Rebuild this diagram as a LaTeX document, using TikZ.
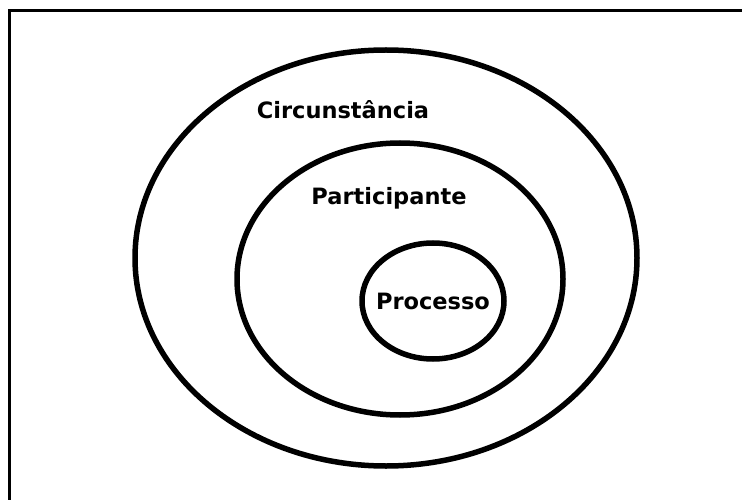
\documentclass[tikz,border=0pt]{standalone}
\usepackage{fontspec}
\setmainfont{DejaVu Sans}
\begin{document}
\begin{tikzpicture}[x=1pt,y=-1pt,
  ring/.style={draw=black,line width=5.5pt},
  lbl/.style={font=\fontsize{22.5}{25}\selectfont\bfseries,text=black,inner sep=0pt}]
\useasboundingbox (0,0) rectangle (742,500);
\begin{scope}
\clip (0,0) rectangle (742,500);
\draw[line width=3pt] (9,520) |- (760,11);
\end{scope}
\draw[ring] (386,258) ellipse [x radius=251, y radius=208];
\draw[ring] (400,279) ellipse [x radius=163, y radius=136];
\draw[ring] (433,301) ellipse [x radius=71, y radius=58];
\node[lbl] (circ) at (343,110) {Circunstância};
\node[lbl] (part) at (389,198) {Participante};
\node[lbl] (proc) at (433,301) {Processo};
\end{tikzpicture}
\end{document}
